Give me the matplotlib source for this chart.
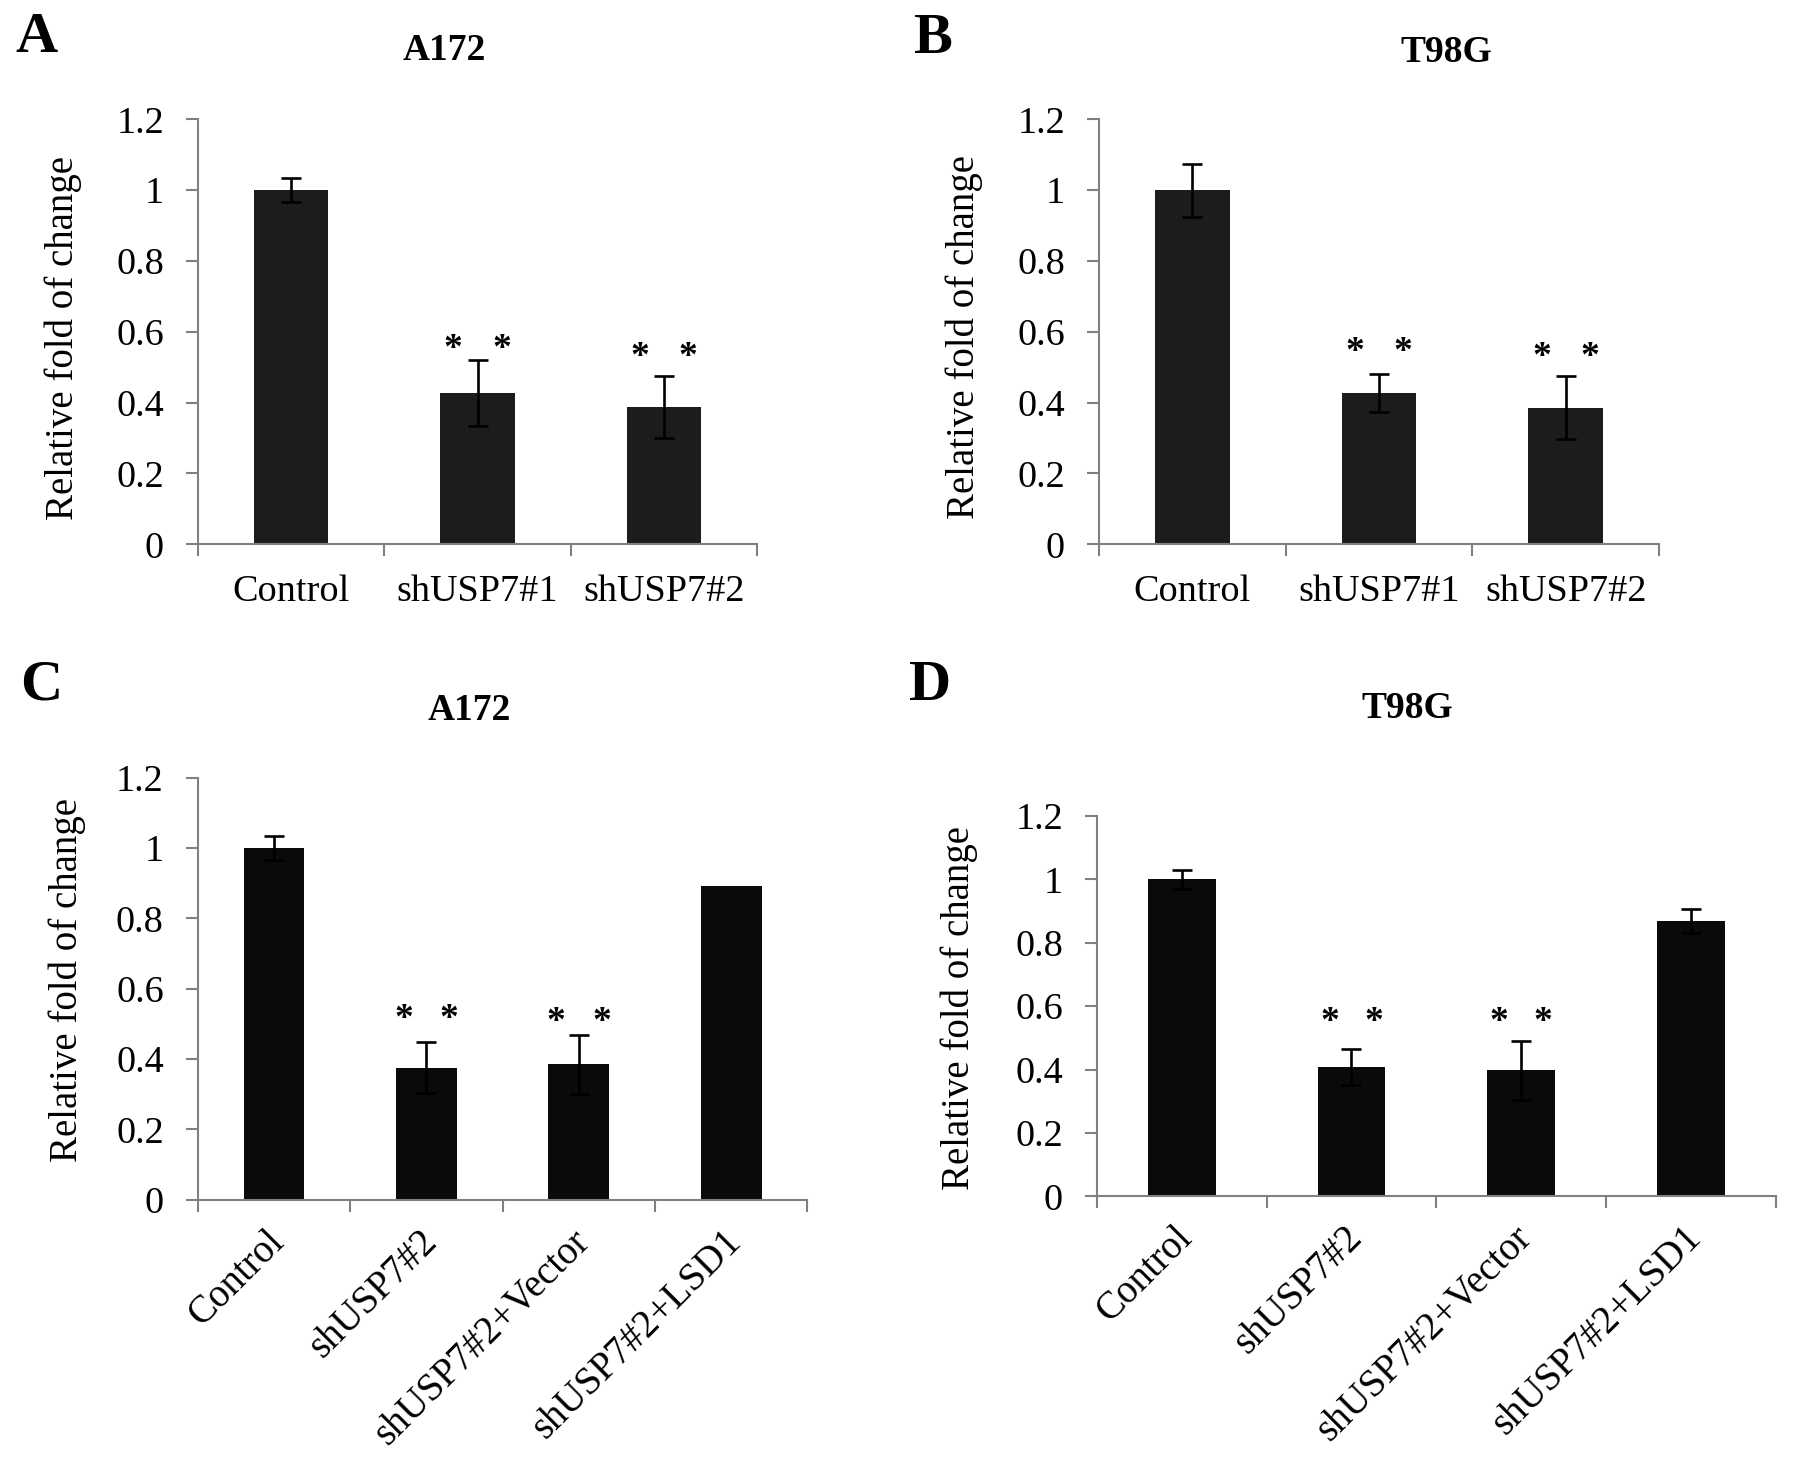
import matplotlib
matplotlib.use("Agg")
import matplotlib.pyplot as plt
from matplotlib.transforms import ScaledTranslation
import numpy as np

plt.rcParams['font.family'] = ['Liberation Serif', 'DejaVu Serif']

W, H = 1795, 1470

# ---------------- data ----------------
cats_ab = ["Control", "shUSP7#1", "shUSP7#2"]
cats_cd = ["Control", "shUSP7#2", "shUSP7#2+Vector", "shUSP7#2+LSD1"]

a_vals = [1.00, 0.427, 0.388]
a_errs = [0.034, 0.092, 0.088]
a_star = [None, 0.569, 0.547]

b_vals = [1.00, 0.427, 0.386]
b_errs = [0.075, 0.053, 0.088]
b_star = [None, 0.560, 0.547]

c_vals = [1.00, 0.376, 0.385, 0.892]
c_errs = [0.034, 0.073, 0.083, 0.0]
c_star = [None, 0.532, 0.525, None]

d_vals = [1.00, 0.409, 0.398, 0.869]
d_errs = [0.031, 0.057, 0.093, 0.039]
d_star = [None, 0.570, 0.570, None]

yticks = [0, 0.2, 0.4, 0.6, 0.8, 1.0, 1.2]
ytick_labels = ["0", "0.2", "0.4", "0.6", "0.8", "1", "1.2"]

panels = [
    dict(letter="A", title="A172", cats=cats_ab, vals=a_vals, errs=a_errs, stars=a_star,
         color="#1c1c1c", box=(198, 757, 119.3, 544.3), tpos=(444, 51), lpos=(36, 38),
         ypos=(82, 338), soff=0.13, rot=False),
    dict(letter="B", title="T98G", cats=cats_ab, vals=b_vals, errs=b_errs, stars=b_star,
         color="#1c1c1c", box=(1099, 1659, 119.3, 544.3), tpos=(1446, 52), lpos=(932, 39),
         ypos=(983, 337), soff=0.13, rot=False),
    dict(letter="C", title="A172", cats=cats_cd, vals=c_vals, errs=c_errs, stars=c_star,
         color="#0a0a0a", box=(197.8, 807.3, 777.8, 1199.8), tpos=(469, 710), lpos=(41, 686),
         ypos=(86, 980), soff=0.15, rot=True),
    dict(letter="D", title="T98G", cats=cats_cd, vals=d_vals, errs=d_errs, stars=d_star,
         color="#0a0a0a", box=(1097, 1775.6, 816, 1196.3), tpos=(1407, 709), lpos=(930, 686),
         ypos=(978, 1008), soff=0.13, rot=True),
]

fig = plt.figure(figsize=(W / 100, H / 100), dpi=100)
axis_gray = "#808080"
star_shift = ScaledTranslation(0, -7 / 100, fig.dpi_scale_trans)

for p in panels:
    l, r, t, b = p["box"]
    ax = fig.add_axes([l / W, 1 - b / H, (r - l) / W, (b - t) / H])
    n = len(p["cats"])
    x = np.arange(n) + 0.5
    vals = np.array(p["vals"])
    errs = np.array(p["errs"])
    ax.bar(x, vals, width=0.4, color=p["color"], zorder=2)
    m = errs > 0
    ax.errorbar(x[m], vals[m], yerr=errs[m], fmt="none", ecolor="black",
                elinewidth=1.9, capsize=7, capthick=1.9, zorder=3)
    for xi, s in zip(x, p["stars"]):
        if s is not None:
            for dx in (-p["soff"], p["soff"]):
                ax.text(xi + dx, s, "*", ha="center", va="center", fontsize=27,
                        fontweight="bold", color="black", zorder=4,
                        transform=ax.transData + star_shift)
    ax.set_xlim(0, n)
    ax.set_ylim(0, 1.2)
    for side in ("top", "right"):
        ax.spines[side].set_visible(False)
    for side in ("left", "bottom"):
        ax.spines[side].set_color(axis_gray)
        ax.spines[side].set_linewidth(1.5)
    ax.set_yticks(yticks)
    ax.set_yticklabels(ytick_labels)
    ax.tick_params(axis="y", direction="out", length=8.5, width=1.5, color=axis_gray,
                   labelsize=27.5, pad=16)
    ax.set_xticks(np.arange(n + 1))
    ax.set_xticklabels([])
    ax.tick_params(axis="x", which="major", direction="out", length=8.5, width=1.5,
                   color=axis_gray)
    ax.set_xticks(x, minor=True)
    if p["rot"]:
        labs = ax.set_xticklabels(p["cats"], minor=True, rotation=45, ha="right",
                                  rotation_mode="anchor", va="center")
        ax.tick_params(axis="x", which="minor", length=0, labelsize=28, pad=26)
        off = ScaledTranslation(5 / 100, 0, fig.dpi_scale_trans)
        for lab in labs:
            lab.set_transform(lab.get_transform() + off)
    else:
        ax.set_xticklabels(p["cats"], minor=True)
        ax.tick_params(axis="x", which="minor", length=0, labelsize=27.5, pad=22)
    ax.set_ylabel("Relative fold of change", fontsize=28, va="bottom")
    ax.yaxis.set_label_coords(p["ypos"][0] / W, 1 - p["ypos"][1] / H, transform=fig.transFigure)
    fig.text(p["tpos"][0] / W, 1 - p["tpos"][1] / H, p["title"], ha="center", va="center",
             fontsize=27, fontweight="bold")
    fig.text(p["lpos"][0] / W, 1 - p["lpos"][1] / H, p["letter"], ha="center", va="center",
             fontsize=42, fontweight="bold")

fig.savefig("out.png", dpi=100, facecolor="white")
